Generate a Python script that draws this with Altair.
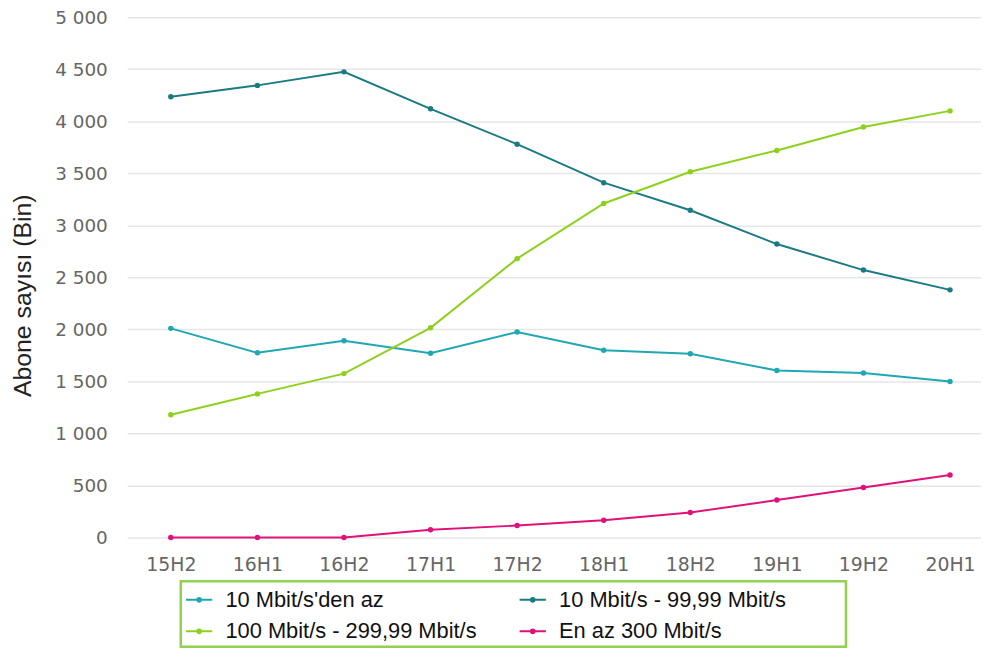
import altair as alt
import pandas as pd

periods = ["15H2", "16H1", "16H2", "17H1", "17H2", "18H1", "18H2", "19H1", "19H2", "20H1"]
series_names = [
    "10 Mbit/s'den az",
    "10 Mbit/s - 99,99 Mbit/s",
    "100 Mbit/s - 299,99 Mbit/s",
    "En az 300 Mbit/s",
]
below_10 = [2010, 1775, 1890, 1770, 1975, 1800, 1765, 1605, 1580, 1500]
from_10_to_100 = [4235, 4345, 4475, 4120, 3780, 3410, 3145, 2820, 2570, 2380]
from_100_to_300 = [1180, 1380, 1575, 2015, 2680, 3210, 3515, 3720, 3945, 4100]
at_least_300 = [0, 0, 0, 75, 115, 165, 240, 360, 480, 600]
colors = ["#1fa8b3", "#1a7b82", "#8ed11c", "#e0127a"]
y_ticks = [0, 500, 1000, 1500, 2000, 2500, 3000, 3500, 4000, 4500, 5000]

rows = []
for name, vals in zip(series_names, [below_10, from_10_to_100, from_100_to_300, at_least_300]):
    for p, v in zip(periods, vals):
        rows.append({"period": p, "series": name, "value": v})
df = pd.DataFrame(rows)

# legend is filled column by column: order so rows read as in the reference
legend_order = [series_names[0], series_names[2], series_names[1], series_names[3]]
legend_colors = [colors[0], colors[2], colors[1], colors[3]]

legend_symbol = "M-1,0L1,0M-0.14,0a0.14,0.14 0 1,0 0.28,0a0.14,0.14 0 1,0 -0.28,0"

chart = alt.Chart(df).mark_line(
    strokeWidth=2,
    point=alt.OverlayMarkDef(size=30, filled=True),
).encode(
    x=alt.X(
        "period:N",
        sort=periods,
        scale=alt.Scale(type="point", padding=0.431, align=0.585),
        axis=alt.Axis(
            title=None, domain=False, ticks=False, grid=False, labelAngle=0,
            labelFont="DejaVu Sans", labelFontSize=19, labelColor="#666666",
            labelPadding=18,
        ),
    ),
    y=alt.Y(
        "value:Q",
        scale=alt.Scale(domain=[0, 5000], nice=False),
        axis=alt.Axis(
            values=y_ticks, domain=False, ticks=False, grid=True,
            gridColor="#e6e6e6", gridWidth=1.5,
            labelFont="DejaVu Sans", labelFontSize=18.5, labelColor="#666666",
            labelPadding=20,
            labelExpr="replace(format(datum.value, ','), ',', ' ')",
            title="Abone sayısı (Bin)", titleFont="Liberation Sans", titleFontSize=25,
            titleFontWeight="normal", titleColor="#222222",
            titleX=-97, titleY=280, titleAngle=270, titleAlign="center",
            titleBaseline="alphabetic",
        ),
    ),
    color=alt.Color(
        "series:N",
        sort=legend_order,
        scale=alt.Scale(domain=legend_order, range=legend_colors),
        legend=alt.Legend(
            title="\u00a0", titleOrient="right", titlePadding=56, titleFontSize=10,
            orient="none", legendX=54, legendY=568,
            columns=2, columnPadding=38, rowPadding=6, padding=4, gridAlign="each",
            labelFont="Liberation Sans", labelFontSize=22, labelColor="#111111",
            labelOffset=12, labelLimit=500,
            symbolType=legend_symbol, symbolSize=700, symbolStrokeWidth=2,
            strokeColor="#92d050",
        ),
    ),
).properties(
    width=860,
    height=524,
    autosize=alt.AutoSizeParams(type="none"),
    padding={"left": 120, "top": 7, "right": 0, "bottom": 109},
    background="white",
).configure_view(stroke=None).configure_legend(strokeWidth=2.5)

chart.save("out.html", embed_options={"renderer": "svg", "actions": False})
